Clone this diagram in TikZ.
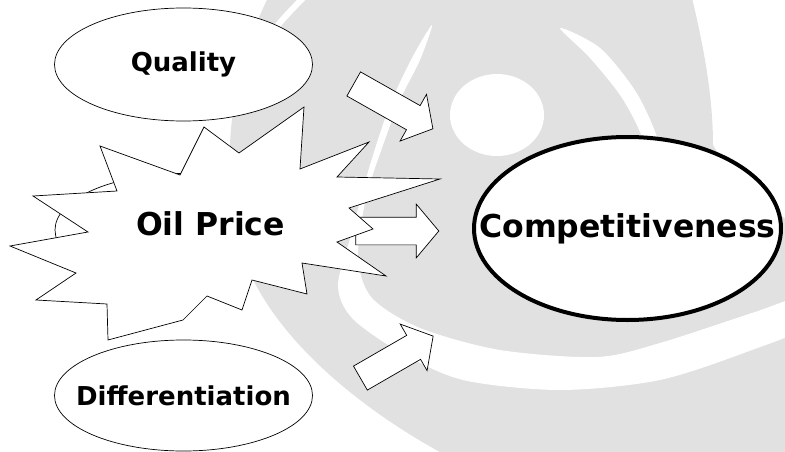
\documentclass[tikz,border=0pt]{standalone}
\usepackage{fontspec}
\setmainfont{DejaVu Sans}
\usepackage{tikz}
\usetikzlibrary{shapes.geometric,shapes.arrows}
\definecolor{wmgray}{RGB}{225,225,225}
\newcommand*{\goalfont}{\fontsize{31.5}{36}\selectfont\bfseries}
\newcommand*{\ovalfont}{\fontsize{26}{30}\selectfont\bfseries}

\begin{document}
\begin{tikzpicture}[x=1pt,y=-1pt,
  oval/.style={ellipse,draw=black,fill=white,line width=0.7pt,inner xsep=-60pt,inner ysep=0pt,minimum width=258pt,font=\ovalfont},
  goal/.style={ellipse,draw=black,fill=white,line width=4pt,inner xsep=-60pt,inner ysep=0pt,minimum width=307pt,minimum height=183pt,font=\goalfont},
  blockarrow/.style={single arrow,draw=black,fill=white,line width=0.7pt,inner xsep=0pt,inner ysep=13.5pt,single arrow head extend=13pt,single arrow tip angle=100,minimum width=53pt},
  burst/.style={draw=black,fill=white,line width=0.7pt}]
\useasboundingbox (0,0) rectangle (785,452);
% watermark behind everything
\begin{scope}
  \clip (0,0) rectangle (785,452);
  \fill[wmgray] (272,-10) -- (690,-10) .. controls (705,50) and (713,100) .. (713,145) .. controls (730,175) and (760,200) .. (800,230) -- (800,470) -- (475,470) .. controls (390,430) and (265,345) .. (238,240) .. controls (218,150) and (235,60) .. (272,-10) -- cycle;
  \fill[white] plot[smooth cycle,tension=0.5] coordinates {(432,25) (412,58) (390,105) (370,165) (352,232) (338,285) (352,318) (400,352) (463,380) (560,390) (660,380) (752,350) (810,325) (810,295) (752,313) (660,343) (597,357) (500,350) (420,328) (372,298) (358,258) (366,198) (382,148) (400,100) (420,60)};
  \fill[white] plot[smooth cycle,tension=0.5] coordinates {(560,28) (600,48) (636,92) (658,140) (672,200) (658,200) (644,142) (622,98) (590,58)};
  \fill[white] (497,115) ellipse [x radius=47pt,y radius=41pt];
  \draw[white,line width=6pt] plot[smooth] coordinates {(255,60) (278,25) (306,-5)};
\end{scope}
\node[oval,minimum height=113pt] (oilbg) at (184,230) {};
\node[blockarrow,minimum height=91pt,rotate=-29.5] (qa) at (388.25,103.5) {};
\node[blockarrow,minimum height=83pt] (oa) at (391.5,231) {};
\node[blockarrow,minimum height=84pt,rotate=30] (da) at (391.75,360) {};
\node[oval,minimum height=113pt] (qual) at (183.5,64.5) {Quality};
\node[oval,minimum height=111pt] (diff) at (183.5,395.5) {Differentiation};
% the oil price burst
\draw[burst] (440,179) -- (337,177) -- (369,142) -- (300,169) -- (304,107) -- (239,153) -- (204,127) -- (180,175) -- (100,146) -- (117,191) -- (33,196) -- (88,232) -- (10,246) -- (76,273) -- (36,300) -- (107,304) -- (108,340) -- (183,320) -- (207,296) -- (242,310) -- (252,280) -- (307,294) -- (302,263) -- (386,276) -- (337,242) -- (373,229) -- (349,208) -- cycle;
\node[font=\goalfont] (oil) at (210.5,223.5) {Oil Price};
\node[goal] (comp) at (627.5,228.5) {Competitiveness};
\end{tikzpicture}
\end{document}
